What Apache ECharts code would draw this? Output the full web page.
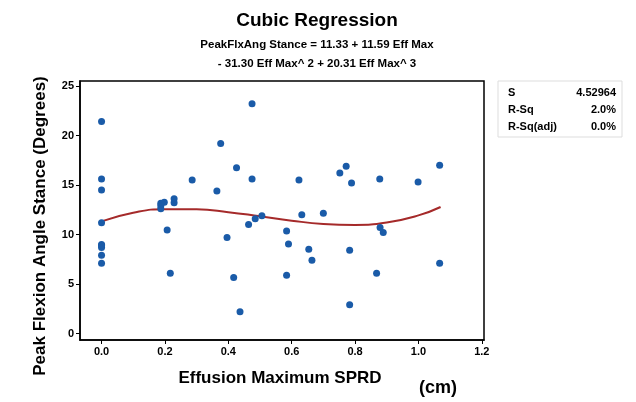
<!DOCTYPE html>
<html><head><meta charset="utf-8">
<script src="https://cdn.jsdelivr.net/npm/echarts@6/dist/echarts.min.js"></script>
<style>html,body{margin:0;padding:0;background:#fff}#c{width:636px;height:402px}</style>
</head><body><div id="c"></div>
<script>
const effX = [0,0,0,0,0,0,0,0,0,
  0.187,0.198,0.187,0.187,0.229,0.229,0.207,0.217,0.286,0.376,0.426,0.364,0.475,0.475,0.396,0.417,0.437,0.464,0.485,0.506,
  0.584,0.590,0.584,0.623,0.632,0.700,0.654,0.664,0.752,0.772,0.789,0.783,0.783,0.878,0.879,0.889,0.868,0.999,1.067,1.067];
const peakY = [21.4,15.6,14.5,11.2,9.0,8.7,7.9,7.1,8.9,
  13.15,13.25,12.9,12.6,13.6,13.2,10.45,6.1,15.5,19.2,16.75,14.4,23.2,15.6,9.7,5.65,2.2,11.0,11.6,11.9,
  10.35,9.05,5.9,15.5,12.0,12.15,8.5,7.4,16.2,16.9,15.2,8.4,2.9,15.6,10.7,10.2,6.1,15.3,17.0,7.1];
const fitX = [0,0.1,0.2,0.3,0.4,0.5,0.6,0.7,0.8,0.9,1.0,1.07];
const fitY = [11.33,12.20,12.56,12.54,12.26,11.84,11.40,11.07,10.97,11.21,11.93,12.78];
const xTicks = [0,0.2,0.4,0.6,0.8,1.0,1.2];
const yTicks = [0,5,10,15,20,25];
const statNames = ['S','R-Sq','R-Sq(adj)'];
const statVals = ['4.52964','2.0%','0.0%'];

const chart = echarts.init(document.getElementById('c'));
const F = 'Liberation Sans, Arial, sans-serif';
chart.setOption({
  animation:false,
  title:[
    {text:'Cubic Regression',left:312,top:6,textAlign:'center',textStyle:{fontFamily:F,fontWeight:'bold',fontSize:19,color:'#000'}},
    {text:'PeakFlxAng Stance = 11.33 + 11.59 Eff Max',left:312,top:34,textAlign:'center',textStyle:{fontFamily:F,fontWeight:'bold',fontSize:11.5,color:'#000'}},
    {text:'- 31.30 Eff Max^ 2 + 20.31 Eff Max^ 3',left:312,top:53,textAlign:'center',textStyle:{fontFamily:F,fontWeight:'bold',fontSize:11.5,color:'#000'}}
  ],
  grid:{left:80,right:152,top:81,bottom:62,show:true,borderColor:'#000',borderWidth:1.5,backgroundColor:'#fff'},
  xAxis:{type:'value',min:-0.068,max:1.207,
    axisLine:{show:true,onZero:false,lineStyle:{color:'#000',width:1.5}},
    axisTick:{show:true,length:4,customValues:xTicks,lineStyle:{color:'#000'}},
    axisLabel:{customValues:xTicks,formatter:v=>v.toFixed(1),fontFamily:F,fontWeight:'bold',fontSize:11,color:'#000',margin:6},
    splitLine:{show:false}},
  yAxis:{type:'value',min:-0.65,max:25.5,
    axisLine:{show:true,onZero:false,lineStyle:{color:'#000',width:1.5}},
    axisTick:{show:true,length:4,customValues:yTicks,lineStyle:{color:'#000'}},
    axisLabel:{customValues:yTicks,fontFamily:F,fontWeight:'bold',fontSize:11,color:'#000',margin:6},
    splitLine:{show:false}},
  graphic:[
    {type:'rect',shape:{x:498,y:81,width:124,height:56},style:{fill:'#fff',stroke:'#ddd',lineWidth:1}},
    ...statNames.map((s,i)=>({type:'text',x:508,y:93+i*17,style:{text:s,fontFamily:F,fontWeight:'bold',fontSize:11,fill:'#000',textVerticalAlign:'middle'}})),
    ...statVals.map((s,i)=>({type:'text',x:616,y:93+i*17,style:{text:s,fontFamily:F,fontWeight:'bold',fontSize:11,fill:'#000',textAlign:'right',textVerticalAlign:'middle'}})),
    {type:'text',x:280,y:378,style:{text:'Effusion Maximum SPRD',fontFamily:F,fontWeight:'bold',fontSize:17,fill:'#000',textAlign:'center',textVerticalAlign:'middle'}},
    {type:'text',x:40,y:226,rotation:Math.PI/2,style:{text:'Peak Flexion Angle Stance (Degrees)',fontFamily:F,fontWeight:'bold',fontSize:17,fill:'#000',textAlign:'center',textVerticalAlign:'middle'}},
    {type:'text',x:438,y:388,style:{text:'(cm)',fontFamily:F,fontWeight:'bold',fontSize:18,fill:'#000',textAlign:'center',textVerticalAlign:'middle'}}
  ],
  series:[
    {type:'scatter',data:effX.map((x,i)=>[x,peakY[i]]),symbolSize:7,itemStyle:{color:'#1a5ba8',opacity:1},z:3},
    {type:'line',data:fitX.map((x,i)=>[x,fitY[i]]),smooth:true,showSymbol:false,lineStyle:{color:'#a52a2a',width:2},z:2}
  ]
});
</script></body></html>
